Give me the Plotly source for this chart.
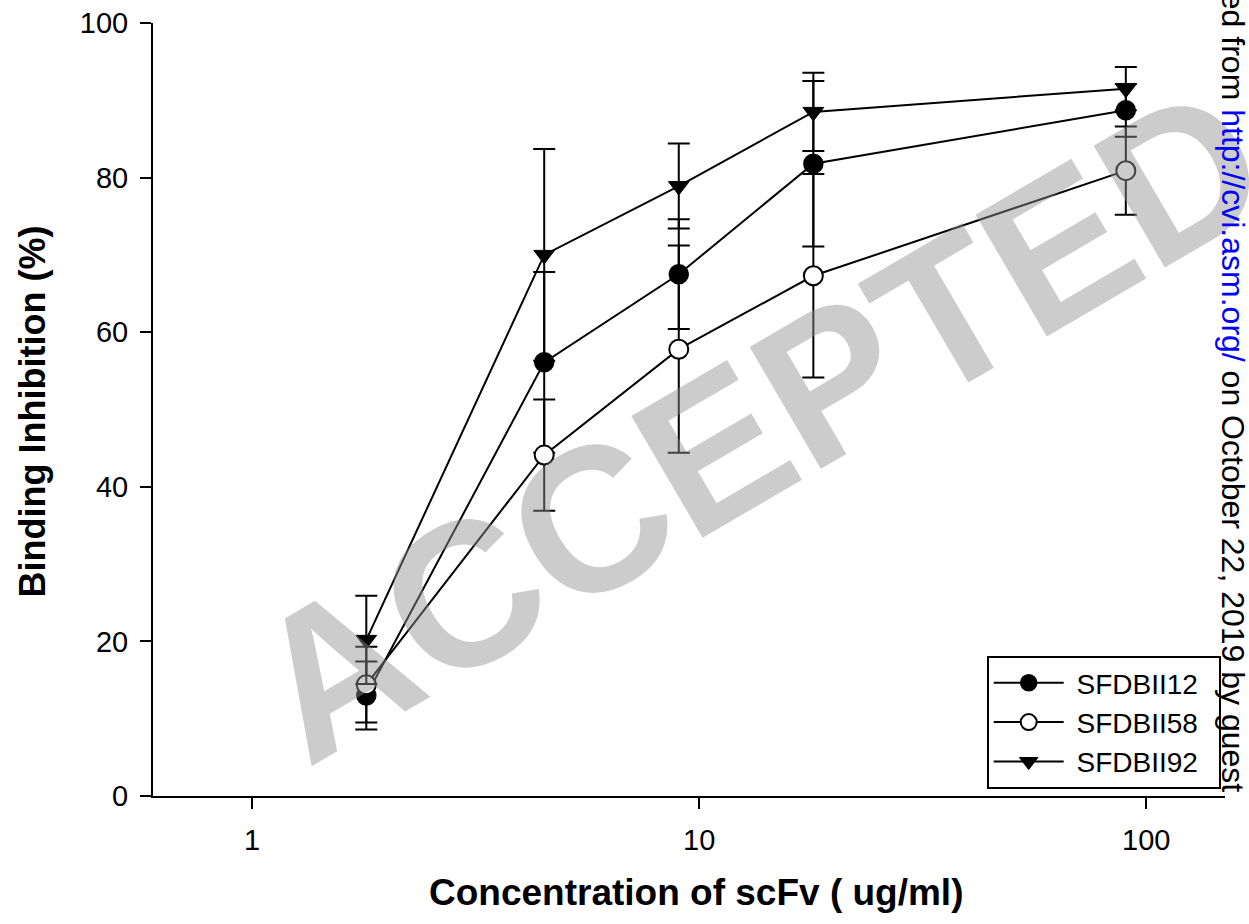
import math
import plotly.graph_objects as go

# ---- data ----
conc = [1.8, 4.5, 9, 18, 90]

s12 = [13.0, 56.1, 67.5, 81.8, 88.7]
s12_err = [4.4, 11.7, 7.1, 10.7, 3.4]

s58 = [14.4, 44.1, 57.8, 67.3, 80.9]
s58_err = [4.9, 7.2, 13.4, 13.15, 5.7]

s92 = [20.2, 70.0, 78.9, 88.5, 91.5]
s92_err = [5.7, 13.7, 5.5, 5.05, 2.8]

series_names = ["SFDBII12", "SFDBII58", "SFDBII92"]

x_ticks = [1, 10, 100]
x_ticklabels = ["1", "10", "100"]
y_ticks = [0, 20, 40, 60, 80, 100]

FONT = "Liberation Sans, Arial, Helvetica, sans-serif"

# plot-area geometry in page pixels
W, H = 1249, 924
L, R, T, B = 153, 24, 23, 128
PW, PH = W - L - R, H - T - B


def px_x(px):
    return (px - L) / PW


def px_y(py):
    return (H - B - py) / PH


def err(vals):
    return dict(type="data", array=vals, visible=True, color="black",
                thickness=2, width=11)


def legend_label(name):
    # padding so the legend box gets the reference's inner spacing
    return "&nbsp;" + name + "&nbsp;&nbsp;"


fig = go.Figure()
fig.add_trace(go.Scatter(
    x=conc, y=s12, name=legend_label(series_names[0]), mode="lines+markers",
    line=dict(color="black", width=2),
    marker=dict(symbol="circle", size=19, color="black",
                line=dict(color="black", width=1.5)),
    error_y=err(s12_err)))
fig.add_trace(go.Scatter(
    x=conc, y=s58, name=legend_label(series_names[1]), mode="lines+markers",
    line=dict(color="black", width=2),
    marker=dict(symbol="circle", size=19, color="white",
                line=dict(color="black", width=2)),
    error_y=err(s58_err)))
fig.add_trace(go.Scatter(
    x=conc, y=s92, name=legend_label(series_names[2]), mode="lines+markers",
    line=dict(color="black", width=2),
    marker=dict(symbol="triangle-down", size=18, color="black",
                line=dict(color="black", width=1)),
    error_y=err(s92_err)))

axis_common = dict(showline=True, linecolor="black", linewidth=2,
                   ticks="outside", ticklen=11, tickwidth=2, tickcolor="black",
                   showgrid=False, zeroline=False, mirror=False,
                   automargin=False,
                   tickfont=dict(family=FONT, size=29, color="black"))

fig.update_xaxes(type="log", range=[math.log10(0.6), math.log10(150)],
                 tickvals=x_ticks, ticktext=x_ticklabels,
                 ticklabelstandoff=6, **axis_common)
fig.update_yaxes(range=[0, 100], tickvals=y_ticks,
                 ticklabelstandoff=6, **axis_common)

annotations = [
    # axis titles
    dict(text="Concentration of scFv ( ug/ml)", x=px_x(696), y=px_y(893),
         xref="paper", yref="paper", showarrow=False,
         xanchor="center", yanchor="middle",
         font=dict(family=FONT, size=37, color="black", weight="bold")),
    dict(text="Binding Inhibition (%)", x=px_x(32), y=px_y(411.5),
         xref="paper", yref="paper", showarrow=False, textangle=-90,
         xanchor="center", yanchor="middle",
         font=dict(family=FONT, size=36, color="black", weight="bold")),
    # watermark
    dict(text="ACCEPTED", x=px_x(758), y=px_y(422),
         xref="paper", yref="paper", showarrow=False, textangle=-30.3,
         xanchor="center", yanchor="middle",
         font=dict(family=FONT, size=205, color="rgba(143,143,143,0.46)",
                   weight="bold")),
    # vertical download note
    dict(text='Downloaded from <span style="color:#0000ff">http://cvi.asm.org/</span> on October 22, 2019 by guest',
         x=px_x(1233), y=px_y(794), xref="paper", yref="paper",
         showarrow=False, textangle=90, xanchor="center", yanchor="bottom",
         font=dict(family=FONT, size=32, color="black")),
]

fig.update_layout(
    width=W, height=H,
    margin=dict(l=L, r=R, t=T, b=B, pad=0, autoexpand=False),
    paper_bgcolor="white", plot_bgcolor="white",
    showlegend=True,
    legend=dict(x=px_x(1220.7), y=px_y(789), xanchor="right", yanchor="bottom",
                bgcolor="white", bordercolor="black", borderwidth=2,
                font=dict(family=FONT, size=28, color="black"),
                itemwidth=70, tracegroupgap=0),
    annotations=annotations,
)

fig.write_html("out.html")
